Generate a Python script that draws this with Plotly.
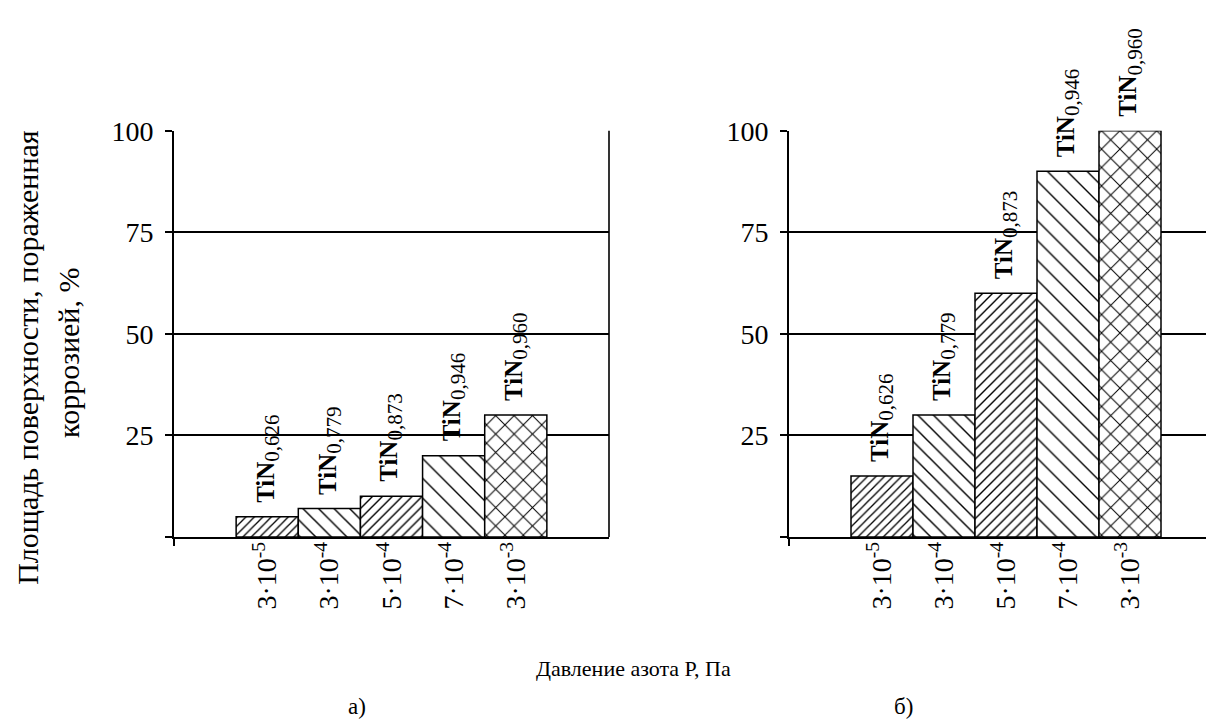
import plotly.graph_objects as go

# ---- data ----
pressures = ["3·10<sup>-5</sup>", "3·10<sup>-4</sup>", "5·10<sup>-4</sup>", "7·10<sup>-4</sup>", "3·10<sup>-3</sup>"]
compositions = ["0,626", "0,779", "0,873", "0,946", "0,960"]
area_a = [5, 7, 10, 20, 30]
area_b = [15, 30, 60, 90, 100]
y_ticks = [0, 25, 50, 75, 100]
y_ticktext = ["", "25", "50", "75", "100"]

positions = [1, 2, 3, 4, 5]
patterns = [
    dict(shape="/", size=6, solidity=0.22),
    dict(shape="\\", size=11, solidity=0.13),
    dict(shape="/", size=7, solidity=0.2),
    dict(shape="\\", size=14, solidity=0.1),
    dict(shape="x", size=13, solidity=0.15),
]

# The page body has an 8px default margin, so the figure is shifted by 8px.
OFF = 8
W, H = 1214 - OFF, 722 - OFF
FONT = "Liberation Serif"

def px(x):
    return (x - OFF) / W

def py(y):
    return 1 - (y - OFF) / H

fig = go.Figure()

for i in range(5):
    p = patterns[i]
    for vals, xa, ya in [(area_a, "x", "y"), (area_b, "x2", "y2")]:
        fig.add_trace(go.Bar(
            x=[positions[i]], y=[vals[i]], width=1.0,
            xaxis=xa, yaxis=ya,
            marker=dict(color="white",
                        line=dict(color="black", width=1.5),
                        pattern=dict(shape=p["shape"], size=p["size"], solidity=p["solidity"],
                                     fgcolor="black", bgcolor="white", fgopacity=1,
                                     fillmode="overlay")),
            showlegend=False, hoverinfo="skip", cliponaxis=False,
        ))

# bar labels
for vals, xr, yr in [(area_a, "x", "y"), (area_b, "x2", "y2")]:
    for i in range(5):
        fig.add_annotation(
            x=positions[i], y=vals[i], xref=xr, yref=yr,
            text="<b>TiN</b><sub><span style='font-size:21px'>" + compositions[i] + "</span></sub>",
            textangle=-90, showarrow=False, xanchor="center", yanchor="bottom",
            yshift=12, font=dict(family=FONT, size=25, color="black"),
        )

yaxis_common = dict(
    range=[0, 100], tickvals=y_ticks, ticktext=y_ticktext,
    showgrid=True, gridcolor="black", gridwidth=1.6,
    zeroline=False, showline=True, linecolor="black", linewidth=1.6,
    ticks="outside", ticklen=7, tickcolor="black", tickwidth=1.5,
    ticklabelstandoff=6,
    tickfont=dict(family=FONT, size=28, color="black"),
)

xaxis_common = dict(
    showgrid=False, zeroline=False, showline=True, linecolor="black", linewidth=1.6,
    ticks="", tickvals=positions, ticktext=pressures, tickangle=-90,
    ticklabelstandoff=-8,
    tickfont=dict(family=FONT, size=28, color="black"),
    minor=dict(tickvals=[-0.5], ticks="outside", ticklen=7, tickcolor="black", tickwidth=1.5),
)

fig.update_layout(
    width=W, height=H,
    margin=dict(l=0, r=0, t=0, b=0),
    paper_bgcolor="white", plot_bgcolor="rgba(0,0,0,0)",
    barmode="overlay",
    xaxis=dict(xaxis_common, domain=[px(174), px(609)], range=[-0.5, 6.5], anchor="y"),
    yaxis=dict(yaxis_common, domain=[py(533), py(118)], anchor="x"),
    xaxis2=dict(xaxis_common, domain=[px(789), 1.0], range=[-0.5, -0.5 + 425 / 62], anchor="y2"),
    yaxis2=dict(yaxis_common, domain=[py(533), py(118)], anchor="x2"),
)

# right border of left panel
fig.add_shape(type="line", xref="x domain", yref="y domain", x0=1, x1=1, y0=0, y1=1,
              line=dict(color="black", width=1.6))

# y-axis title (two lines)
fig.add_annotation(x=px(28), y=py(350), xref="paper", yref="paper",
                   text="Площадь поверхности, пораженная",
                   textangle=-90, showarrow=False, xanchor="center", yanchor="middle",
                   font=dict(family=FONT, size=30, color="black"))
fig.add_annotation(x=px(69), y=py(345), xref="paper", yref="paper",
                   text="коррозией, %",
                   textangle=-90, showarrow=False, xanchor="center", yanchor="middle",
                   font=dict(family=FONT, size=30, color="black"))
fig.add_annotation(x=px(633), y=py(667), xref="paper", yref="paper",
                   text="Давление азота Р, Па", showarrow=False,
                   xanchor="center", yanchor="middle",
                   font=dict(family=FONT, size=22, color="black"))
fig.add_annotation(x=px(357), y=py(706), xref="paper", yref="paper",
                   text="а)", showarrow=False, xanchor="center", yanchor="middle",
                   font=dict(family=FONT, size=23, color="black"))
fig.add_annotation(x=px(903), y=py(706), xref="paper", yref="paper",
                   text="б)", showarrow=False, xanchor="center", yanchor="middle",
                   font=dict(family=FONT, size=23, color="black"))

fig.write_html("out.html")
